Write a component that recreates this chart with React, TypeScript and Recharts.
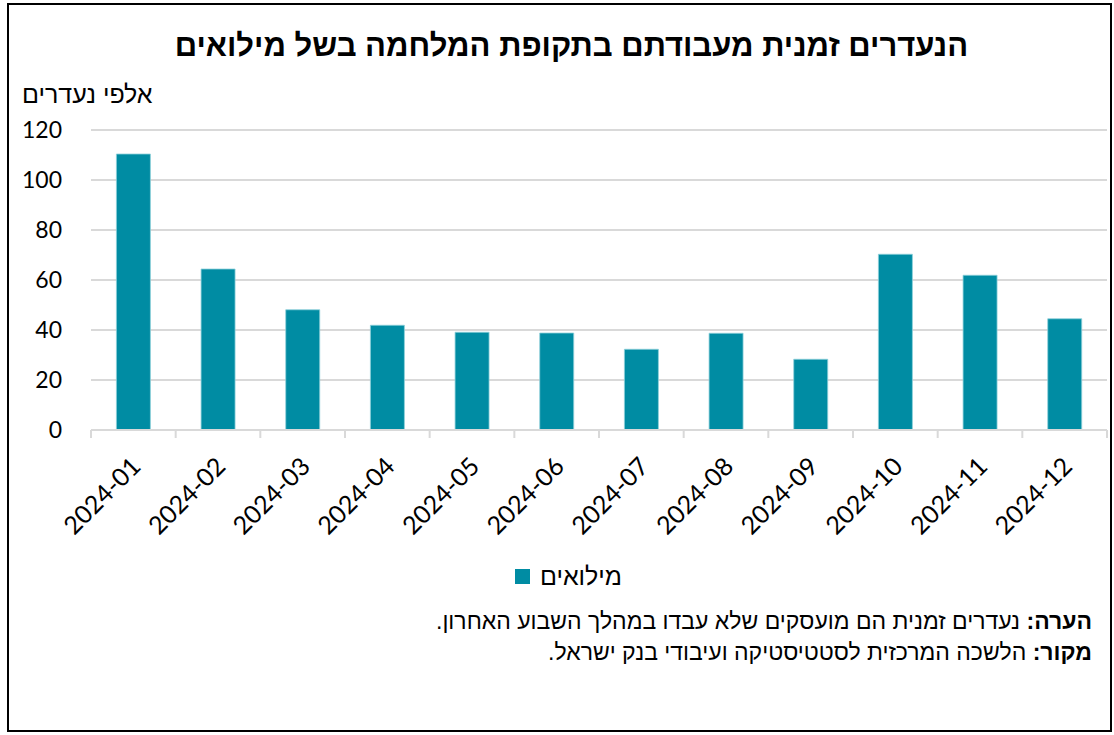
import React from 'react';
import { BarChart, Bar, XAxis, YAxis, CartesianGrid } from 'recharts';

const months = ['2024-01', '2024-02', '2024-03', '2024-04', '2024-05', '2024-06', '2024-07', '2024-08', '2024-09', '2024-10', '2024-11', '2024-12'];
const reserveDuty = [110.4, 64.4, 48.1, 41.9, 39.1, 38.8, 32.3, 38.7, 28.3, 70.3, 61.9, 44.5];
const yTicks = [0, 20, 40, 60, 80, 100, 120];
const edgeTicks = [0, 1, 2, 3, 4, 5, 6, 7, 8, 9, 10, 11, 12];

const seriesName = 'מילואים';
const title = 'הנעדרים זמנית מעבודתם בתקופת המלחמה בשל מילואים';
const yLabel = 'אלפי נעדרים';

// slot = category index, used only by the helper axis that draws the boundary tick marks
const data = months.map((m, i) => ({ month: m, value: reserveDuty[i], slot: i + 0.5 }));

const hebFont = '"Liberation Sans", Arial, sans-serif';
const numFont = 'Lato, "Liberation Sans", sans-serif';
const barColor = '#008ca3';

const MonthTick = ({ x, y, payload }: any) => (
  <text
    x={0}
    y={0}
    transform={`translate(${x + 9},${y + 30}) rotate(-45)`}
    textAnchor="end"
    fontFamily={numFont}
    fontSize={25}
    fill="#000"
  >
    {payload.value}
  </text>
);

export default function App() {
  return (
    <div
      style={{
        position: 'absolute',
        left: 7,
        top: 3,
        width: 1105,
        height: 729,
        boxSizing: 'border-box',
        border: '2px solid #000',
        background: '#fff',
      }}
    >
      <div
        style={{
          position: 'absolute',
          top: 25,
          left: 24,
          width: 1077,
          textAlign: 'center',
          fontFamily: hebFont,
          fontWeight: 'bold',
          fontSize: 31,
          lineHeight: 1,
          direction: 'rtl',
        }}
      >
        {title}
      </div>
      <div
        style={{
          position: 'absolute',
          top: 77,
          left: 13,
          fontFamily: hebFont,
          fontSize: 25,
          lineHeight: 1,
          direction: 'rtl',
        }}
      >
        {yLabel}
      </div>

      <BarChart
        width={1101}
        height={545}
        data={data}
        margin={{ top: 125, right: 3, left: 0, bottom: 0 }}
        barCategoryGap="30%"
      >
        <CartesianGrid xAxisId="b" yAxisId="y" vertical={false} stroke="#d9d9d9" strokeWidth={2} />
        <XAxis
          xAxisId="a"
          dataKey="slot"
          type="number"
          domain={[0, 12]}
          ticks={edgeTicks}
          interval={0}
          allowDataOverflow
          height={8}
          tick={{ fontSize: 0 }}
          tickFormatter={() => ''}
          tickSize={8}
          tickMargin={0}
          axisLine={{ stroke: '#d9d9d9', strokeWidth: 2 }}
          tickLine={{ stroke: '#d9d9d9', strokeWidth: 2 }}
        />
        <XAxis
          xAxisId="b"
          dataKey="month"
          height={112}
          axisLine={false}
          tickLine={false}
          tickSize={0}
          tickMargin={0}
          interval={0}
          tick={<MonthTick />}
        />
        <YAxis
          yAxisId="y"
          width={82}
          domain={[0, 120]}
          ticks={yTicks}
          axisLine={false}
          tickLine={false}
          tickSize={0}
          tickMargin={29}
          tick={{ fontFamily: numFont, fontSize: 23, fill: '#000' }}
        />
        <Bar
          xAxisId="b"
          yAxisId="y"
          dataKey="value"
          name={seriesName}
          fill={barColor}
          stroke="#8fd0da"
          strokeWidth={0.8}
          isAnimationActive={false}
        />
      </BarChart>

      <div
        style={{
          position: 'absolute',
          top: 559,
          left: 9,
          width: 1101,
          display: 'flex',
          justifyContent: 'center',
          alignItems: 'center',
          direction: 'rtl',
          fontFamily: hebFont,
          fontSize: 25,
          lineHeight: 1,
        }}
      >
        <span style={{ marginLeft: 10 }}>{seriesName}</span>
        <span style={{ display: 'inline-block', width: 15, height: 15, background: barColor }} />
      </div>

      <div
        style={{
          position: 'absolute',
          top: 601,
          right: 18,
          direction: 'rtl',
          textAlign: 'right',
          fontFamily: hebFont,
          fontSize: 23,
          lineHeight: '31px',
        }}
      >
        <div>
          <b>הערה:</b> נעדרים זמנית הם מועסקים שלא עבדו במהלך השבוע האחרון.
        </div>
        <div>
          <b>מקור:</b> הלשכה המרכזית לסטטיסטיקה ועיבודי בנק ישראל.
        </div>
      </div>
    </div>
  );
}
